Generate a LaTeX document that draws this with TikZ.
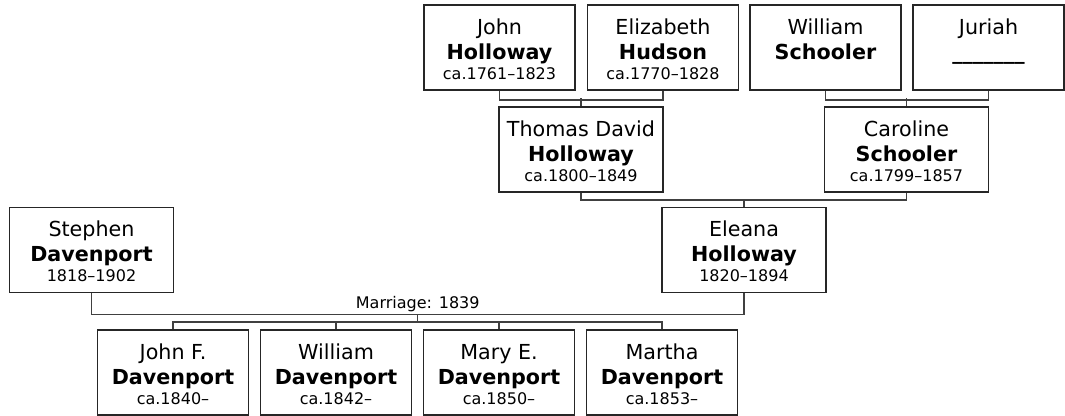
\documentclass[tikz,border=0pt]{standalone}
\usepackage{fontspec}
\setmainfont{DejaVu Sans}
\usetikzlibrary{calc}
\newcommand{\datefont}{\fontsize{12}{14}\selectfont}
\newcommand{\who}[3]{\rule{0pt}{14pt}#1\\\textbf{#2}\\[-4pt]{\datefont #3}}

\begin{document}
\begin{tikzpicture}[
    x=0.75pt, y=-0.75pt,
    person/.style={
        draw=black!85,
        line width=1.2pt,
        minimum width=113.25pt,   % boxes of the outer rows
        minimum height=63.75pt,
        inner sep=0pt,
        align=center,
        font=\fontsize{15.5}{19}\selectfont
    },
    wide/.style={person, minimum width=123pt},  % middle generation
    link/.style={draw=black!75, line width=1.1pt}
]
\useasboundingbox (0,0) rectangle (1065,416);

% grandparents
\node[person] (john) at (499.5,47.5) {\who{John}{Holloway}{ca.1761–1823}};
\node[person] (eliz) at (663,47.5) {\who{Elizabeth}{Hudson}{ca.1770–1828}};
\node[person] (will) at (825.5,47.5) {\who{William}{Schooler}{\phantom{0}}};
\node[person] (juri) at (988.5,47.5) {\who{Juriah}{\_\_\_\_\_\_\_}{\phantom{0}}};

% parents of Eleana
\node[wide] (thomas) at (581,149.5) {\who{Thomas David}{Holloway}{ca.1800–1849}};
\node[wide] (caro) at (906.5,149.5) {\who{Caroline}{Schooler}{ca.1799–1857}};

% the couple
\node[wide] (stephen) at (91.5,250) {\who{Stephen}{Davenport}{1818–1902}};
\node[wide] (eleana) at (744,250) {\who{Eleana}{Holloway}{1820–1894}};

% children
\node[person] (johnf) at (173,372.5) {\who{John F.}{Davenport}{ca.1840–}};
\node[person] (wm) at (336,372.5) {\who{William}{Davenport}{ca.1842–}};
\node[person] (mary) at (499,372.5) {\who{Mary E.}{Davenport}{ca.1850–}};
\node[person] (martha) at (662,372.5) {\who{Martha}{Davenport}{ca.1853–}};

\draw[link] (john.south) -- ++(0,9) -| (eliz.south);
\draw[link] (thomas.north) -- ++(0,-8);
\draw[link] (will.south) -- ++(0,9) -| (juri.south);
\draw[link] (caro.north) -- ++(0,-8);
\draw[link] (thomas.south) -- ++(0,7) -| (caro.south);
\draw[link] (eleana.north) -- ++(0,-8);
\draw[link] (stephen.south) -- ++(0,21)
    -| node[pos=0.25, above=-2pt, font=\datefont] (marr) {Marriage: 1839}
       coordinate[pos=0.25] (wed) (eleana.south);
\draw[link] (wed) -- ++(0,9);
\draw[link] (johnf.north) -- ++(0,-7) -| (martha.north);
\draw[link] (wm.north) -- ++(0,-7);
\draw[link] (mary.north) -- ++(0,-7);
\end{tikzpicture}
\end{document}
